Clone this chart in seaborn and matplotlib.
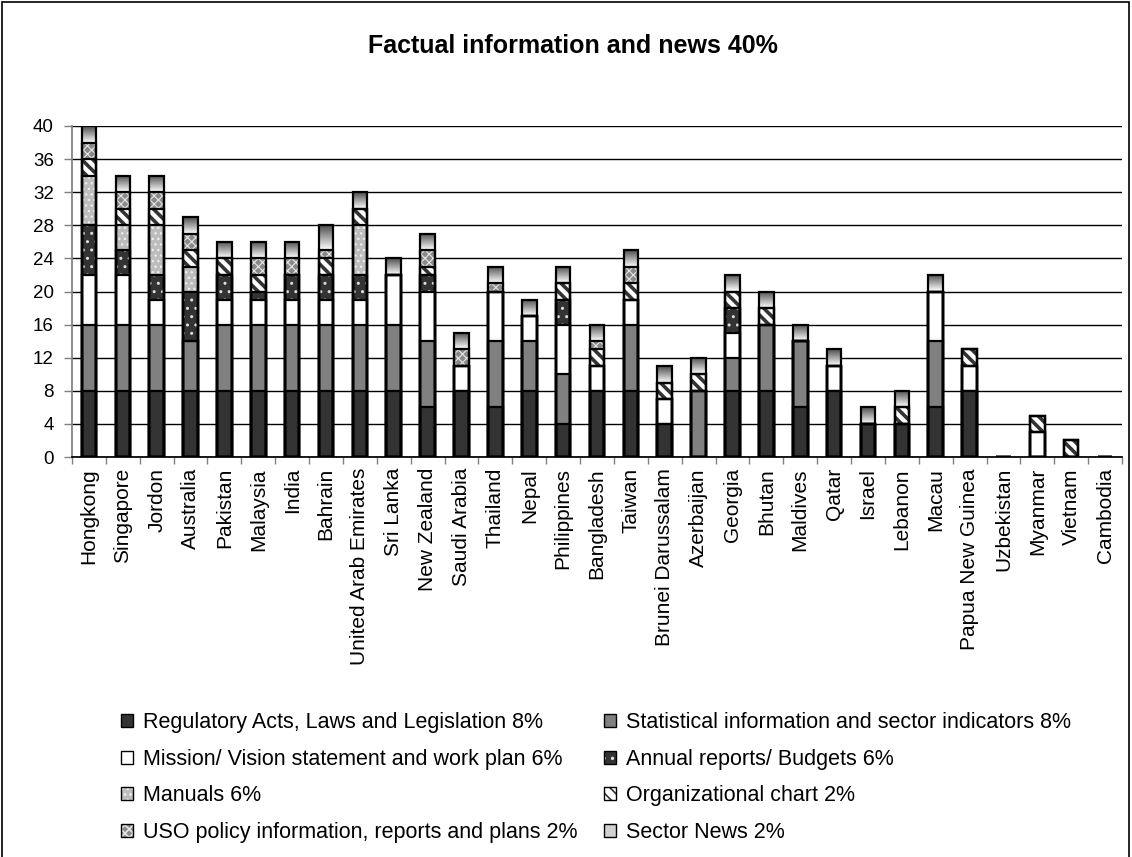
import numpy as np
import seaborn as sns
import matplotlib.pyplot as plt
from matplotlib.patches import Patch, Rectangle
from matplotlib.legend_handler import HandlerTuple

countries = ["Hongkong", "Singapore", "Jordon", "Australia", "Pakistan", "Malaysia",
             "India", "Bahrain", "United Arab Emirates", "Sri Lanka", "New Zealand",
             "Saudi Arabia", "Thailand", "Nepal", "Philippines", "Bangladesh", "Taiwan",
             "Brunei Darussalam", "Azerbaijan", "Georgia", "Bhutan", "Maldives", "Qatar",
             "Israel", "Lebanon", "Macau", "Papua New Guinea", "Uzbekistan", "Myanmar",
             "Vietnam", "Cambodia"]

regulatory  = [8, 8, 8, 8, 8, 8, 8, 8, 8, 8, 6, 8, 6, 8, 4, 8, 8, 4, 0, 8, 8, 6, 8, 4, 4, 6, 8, 0, 0, 0, 0]
statistical = [8, 8, 8, 6, 8, 8, 8, 8, 8, 8, 8, 0, 8, 6, 6, 0, 8, 0, 8, 4, 8, 8, 0, 0, 0, 8, 0, 0, 0, 0, 0]
mission     = [6, 6, 3, 0, 3, 3, 3, 3, 3, 6, 6, 3, 6, 3, 6, 3, 3, 3, 0, 3, 0, 0, 3, 0, 0, 6, 3, 0, 3, 0, 0]
annual      = [6, 3, 3, 6, 3, 1, 3, 3, 3, 0, 2, 0, 0, 0, 3, 0, 0, 0, 0, 3, 0, 0, 0, 0, 0, 0, 0, 0, 0, 0, 0]
manuals     = [6, 3, 6, 3, 0, 0, 0, 0, 6, 0, 0, 0, 0, 0, 0, 0, 0, 0, 0, 0, 0, 0, 0, 0, 0, 0, 0, 0, 0, 0, 0]
org_chart   = [2, 2, 2, 2, 2, 2, 0, 2, 2, 0, 1, 0, 0, 0, 2, 2, 2, 2, 2, 2, 2, 0, 0, 0, 2, 0, 2, 0, 2, 2, 0]
uso         = [2, 2, 2, 2, 0, 2, 2, 1, 0, 0, 2, 2, 1, 0, 0, 1, 2, 0, 0, 0, 0, 0, 0, 0, 0, 0, 0, 0, 0, 0, 0]
sector_news = [2, 2, 2, 2, 2, 2, 2, 3, 2, 2, 2, 2, 2, 2, 2, 2, 2, 2, 2, 2, 2, 2, 2, 2, 2, 2, 0, 0, 0, 0, 0]

series_labels = ["Regulatory Acts, Laws and Legislation 8%",
                 "Statistical information and sector indicators 8%",
                 "Mission/ Vision statement and work plan 6%",
                 "Annual reports/ Budgets 6%",
                 "Manuals 6%",
                 "Organizational chart 2%",
                 "USO policy information, reports and plans 2%",
                 "Sector News 2%"]

title = "Factual information and news 40%"

# face colour, hatch, hatch colour, hatch width for each series
styles = [
    ("#333333", None, "#333333", 1.0),
    ("#808080", None, "#808080", 1.0),
    ("#ffffff", None, "#ffffff", 1.0),
    ("#333333", "..", "#dddddd", 1.0),
    ("#bdbdbd", "...", "#ececec", 1.0),
    ("#ffffff", "\\" * 3, "#333333", 2.6),
    ("#8a8a8a", "xxxx", "#e6e6e6", 0.8),
    ("#d0d0d0", None, "#d0d0d0", 1.0),
]

sns.set_theme(style="white")
plt.rcParams['font.family'] = ['Liberation Sans', 'DejaVu Sans']
plt.rcParams['hatch.linewidth'] = 1.2
for key in ['text.color', 'axes.labelcolor', 'xtick.color', 'ytick.color']:
    plt.rcParams[key] = 'black'

layers = np.array([regulatory, statistical, mission, annual, manuals, org_chart, uso, sector_news])
cum = np.cumsum(layers, axis=0)

fig = plt.figure(figsize=(11.32, 8.57), dpi=100)
ax = fig.add_axes([72 / 1132, 1 - 457 / 857, 1050 / 1132, 331 / 857])

grad = np.linspace(0.3, 1.0, 64).reshape(-1, 1)


def set_hatch_width(patch, w):
    if hasattr(patch, 'set_hatch_linewidth'):
        patch.set_hatch_linewidth(w)


# stacked bars: draw cumulative totals from the top series down
for i in reversed(range(len(layers))):
    face, hatch, hcol, hw = styles[i]
    kw = dict(hatch=hatch) if hatch else {}
    sns.barplot(x=countries, y=cum[i], color=face, saturation=1, width=0.43,
                edgecolor=hcol, linewidth=0, ax=ax, zorder=2, **kw)
    for bar in ax.containers[-1]:
        set_hatch_width(bar, hw)
    if i == len(layers) - 1:
        # Sector News gets a grey-to-white gradient
        for bar, lo, hi in zip(ax.containers[-1], cum[i - 1], cum[i]):
            if hi > lo:
                x0 = bar.get_x()
                ax.imshow(grad, extent=[x0, x0 + bar.get_width(), lo, hi], aspect='auto',
                          cmap='gray', vmin=0, vmax=1, zorder=2)

# black outlines
for i in range(len(layers)):
    sns.barplot(x=countries, y=cum[i], fill=False, color='black', width=0.43,
                linewidth=1.6, ax=ax, zorder=3)

ax.set_xlim(-0.5, len(countries) - 0.5)
ax.set_ylim(0, 40)
ax.set_yticks(range(0, 41, 4))
ax.set_xticks(range(len(countries)))
ax.set_xticklabels(countries, rotation=90, fontsize=15)
ax.set_xticks(np.arange(-0.5, len(countries)), minor=True)
ax.set_xlabel('')
ax.set_ylabel('')
ax.set_axisbelow(True)
ax.yaxis.grid(True, color='black', lw=1)
ax.xaxis.grid(False)
ax.tick_params(axis='y', left=True, length=6, width=1, color='#808080', labelsize=13.5, pad=7)
ax.tick_params(axis='x', which='major', length=0, pad=8)
ax.tick_params(axis='x', which='minor', bottom=True, length=5, width=1, color='#808080')
for side in ['top', 'right']:
    ax.spines[side].set_visible(False)
ax.spines['left'].set_color('#808080')
ax.spines['bottom'].set_color('black')

fig.text(0.506, 1 - 46 / 857, title, ha='center', va='center', fontsize=18, fontweight='bold')

# legend in two fixed columns, read row by row like the original
handles = []
for face, hatch, hcol, hw in styles:
    filled = Patch(facecolor=face, hatch=hatch, edgecolor=hcol, lw=0)
    set_hatch_width(filled, hw)
    handles.append((filled, Patch(fill=False, edgecolor='black', lw=1)))

leg_kw = dict(loc='upper left', frameon=False, fontsize=15.5, handlelength=0.55,
              handleheight=0.55, handletextpad=0.45, labelspacing=0.73, borderpad=0,
              borderaxespad=0, handler_map={tuple: HandlerTuple(ndivide=1, pad=0)})
for col, x_px in [(0, 121), (1, 604)]:
    idx = list(range(col, len(styles), 2))
    fig.legend([handles[k] for k in idx], [series_labels[k] for k in idx],
               bbox_to_anchor=(x_px / 1132, 1 - 712 / 857), **leg_kw)

fig.add_artist(Rectangle((2 / 1132, -0.05), 1127 / 1132, 1.05 - 2 / 857,
                         transform=fig.transFigure, fill=False, lw=1.2, ec='black'))

fig.savefig('out.png', dpi=100)
